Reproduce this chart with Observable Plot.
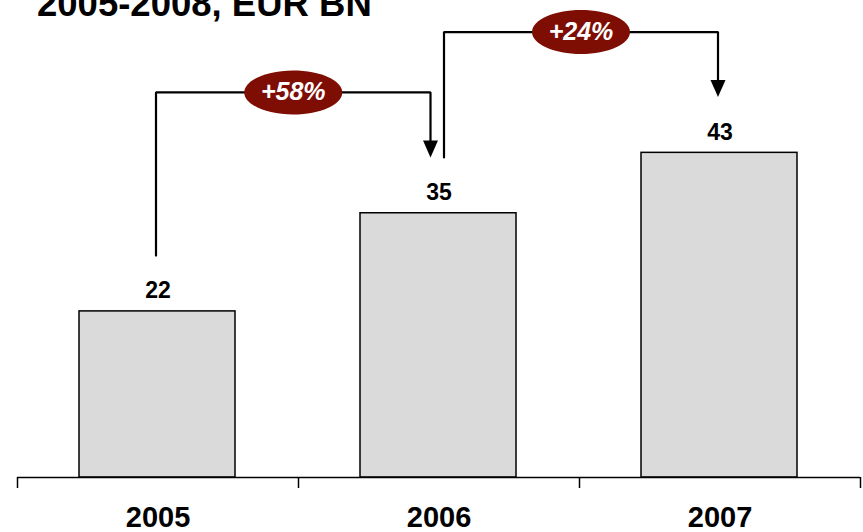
<!DOCTYPE html>
<html>
<head>
<meta charset="utf-8">
<script src="https://cdn.jsdelivr.net/npm/d3@7"></script>
<script src="https://cdn.jsdelivr.net/npm/@observablehq/plot@0.6"></script>
<style>
  html, body { margin: 0; padding: 0; background: #fff; }
  #wrap { position: relative; width: 863px; height: 532px; overflow: hidden; font-family: "Liberation Sans", Arial, sans-serif; }
  #title { position: absolute; left: 37px; top: -14px; font-size: 36.5px; font-weight: bold; line-height: 1; color: #000; white-space: nowrap; }
  #chart svg { display: block; }
</style>
</head>
<body>
<div id="wrap">
  <div id="chart"></div>
  <div id="title">2005-2008, EUR BN</div>
</div>
<script>
// Revenue by year, EUR bn
const years = [2005, 2006, 2007];
const revenue = [22, 35, 43];

// Year-over-year growth callouts
const growthFrom = [2005, 2006];
const growthTo = [2006, 2007];
const growthLabels = ["+58%", "+24%"];

// Band boundaries used for the axis tick marks
const bandEdges = [2004.5, 2005.5, 2006.5, 2007.5];

const bars = years.map((year, i) => ({year, value: revenue[i]}));
const valueOf = new Map(bars.map(d => [d.year, d.value]));

// one year spans 281px on the x scale
const px = 1 / 281;

const brackets = growthFrom.map((from, i) => {
  const to = growthTo[i];
  const startOff = growthTo.includes(from) ? 5 : -2;
  const endOff = growthFrom.includes(to) ? -8.5 : -2;
  return {
    id: i,
    label: growthLabels[i],
    x0: from + startOff * px,
    x1: to + endOff * px,
    yStart: valueOf.get(from) + 7.4,
    yTop: valueOf.get(to) + 16,
    yTip: valueOf.get(to) + 7.4
  };
});

const bracketPath = brackets.flatMap(b => [
  {id: b.id, x: b.x0, y: b.yStart},
  {id: b.id, x: b.x0, y: b.yTop},
  {id: b.id, x: b.x1, y: b.yTop},
  {id: b.id, x: b.x1, y: b.yTip + 1.2}
]);

// filled arrowhead with its tip at the anchor point
const arrowHead = {
  draw(ctx) {
    ctx.moveTo(-7.5, -17);
    ctx.lineTo(7.5, -17);
    ctx.lineTo(0, 0);
    ctx.closePath();
  }
};

// ellipse badge behind the growth labels
const badge = {
  draw(ctx) {
    const rx = 49, ry = 22, k = 0.5523;
    ctx.moveTo(rx, 0);
    ctx.bezierCurveTo(rx, ry * k, rx * k, ry, 0, ry);
    ctx.bezierCurveTo(-rx * k, ry, -rx, ry * k, -rx, 0);
    ctx.bezierCurveTo(-rx, -ry * k, -rx * k, -ry, 0, -ry);
    ctx.bezierCurveTo(rx * k, -ry, rx, -ry * k, rx, 0);
    ctx.closePath();
  }
};

const chart = Plot.plot({
  width: 863,
  height: 532,
  marginTop: 24,
  marginBottom: 55,
  marginLeft: 17,
  marginRight: 3,
  style: {fontFamily: "'Liberation Sans', Arial, sans-serif", background: "#fff", color: "#000"},
  x: {type: "linear", domain: [2004.5, 2007.5], label: null},
  y: {domain: [0, 60], axis: null},
  marks: [
    Plot.rectY(bars, {
      x1: d => d.year - 0.5, x2: d => d.year + 0.5, y: "value",
      insetLeft: 62, insetRight: 63,
      fill: "#dadada", stroke: "#000", strokeWidth: 1.5
    }),
    Plot.ruleY([0], {stroke: "#000", strokeWidth: 1.5}),
    Plot.axisX({ticks: bandEdges, tickSize: 11, tickFormat: () => "", strokeWidth: 1.5}),
    Plot.axisX({
      ticks: years, tickSize: 0, tickPadding: 29,
      tickFormat: d => String(d),
      fontSize: 29, fontWeight: "bold", fill: "#000"
    }),
    Plot.text(bars, {
      x: "year", y: "value", text: d => String(d.value),
      dy: -13, lineAnchor: "bottom",
      fontSize: 23, fontWeight: "bold", fill: "#000"
    }),
    Plot.line(bracketPath, {x: "x", y: "y", z: "id", stroke: "#000", strokeWidth: 2.2, strokeLinejoin: "miter"}),
    Plot.dot(brackets, {x: "x1", y: "yTip", symbol: arrowHead, fill: "#000", stroke: "none"}),
    Plot.dot(brackets, {x: d => (d.x0 + d.x1) / 2, y: "yTop", symbol: badge, fill: "#7e0d04", stroke: "none"}),
    Plot.text(brackets, {
      x: d => (d.x0 + d.x1) / 2, y: "yTop", text: "label",
      lineAnchor: "middle", fontSize: 25, fontWeight: "bold", fontStyle: "italic", fill: "#fff"
    })
  ]
});

document.getElementById("chart").appendChild(chart);
</script>
</body>
</html>
